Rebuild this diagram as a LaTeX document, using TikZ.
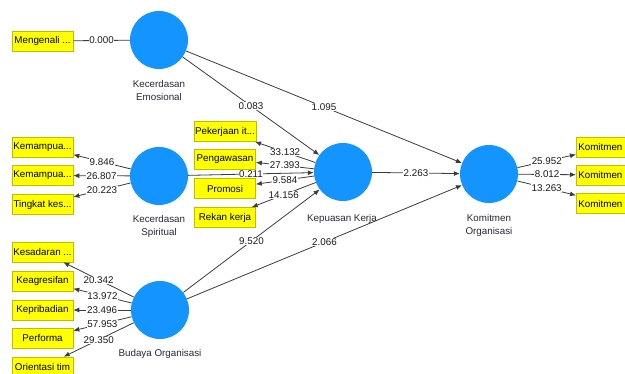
\documentclass[tikz,border=0pt]{standalone}
\usepackage{fontspec}
\setmainfont{Liberation Sans}
\usetikzlibrary{arrows.meta}
\definecolor{lvblue}{RGB}{20,148,255}
\definecolor{boxyellow}{RGB}{255,255,0}
\definecolor{boxedge}{RGB}{190,190,0}
\definecolor{linegray}{RGB}{60,60,60}
\definecolor{lvtext}{RGB}{40,40,60}
\begin{document}
\begin{tikzpicture}[x=1pt,y=-1pt,
  every node/.style={font=\fontsize{9.8}{11}\selectfont},
  lv/.style={circle, fill=lvblue, minimum size=58pt, inner sep=0pt},
  lvlabel/.style={align=center, text=lvtext, font=\fontsize{9.8}{13}\selectfont},
  ind/.style={rectangle, fill=boxyellow, draw=boxedge, line width=0.6pt, minimum width=61pt, minimum height=20pt, inner sep=1pt},
  indr/.style={ind, anchor=west, text width=62pt, align=left, inner xsep=2pt},
  conn/.style={draw=linegray, line width=0.8pt},
  arr/.style={conn, -{Latex[length=6pt,width=5pt]}},
  coef/.style={fill=white, inner sep=0.6pt, text=black!90, midway}
]
\clip (0,0) rectangle (625,374);
\fill[white] (0,0) rectangle (625,374);

% latent variables
\node[lv] (ke) at (159,40) {};
\node[lv] (ks) at (159,176) {};
\node[lv] (bo) at (160,310) {};
\node[lv] (kk) at (343,172) {};
\node[lv] (ko) at (489,174) {};

\node[lvlabel] (kel) at (159,90.5) {Kecerdasan\\Emosional};
\node[lvlabel] (ksl) at (159,226) {Kecerdasan\\Spiritual};
\node[lvlabel] (bol) at (160,354) {Budaya Organisasi};
\node[lvlabel] (kkl) at (342,218.5) {Kepuasan Kerja};
\node[lvlabel] (kol) at (489,225) {Komitmen\\Organisasi};

% indicators left
\node[ind] (m1) at (42.5,41) {Mengenali ...};
\node[ind] (s1) at (42.5,147) {Kemampua...};
\node[ind] (s2) at (42.5,175.5) {Kemampua...};
\node[ind] (s3) at (42.5,204.5) {Tingkat kes...};
\node[ind] (b1) at (42.5,252) {Kesadaran ...};
\node[ind] (b2) at (42.5,281) {Keagresifan};
\node[ind] (b3) at (42.5,310) {Kepribadian};
\node[ind] (b4) at (42.5,338) {Performa};
\node[ind] (b5) at (42.5,367) {Orientasi tim};

% indicators of Kepuasan Kerja
\node[ind] (k1) at (225,131.5) {Pekerjaan it...};
\node[ind] (k2) at (225,159) {Pengawasan};
\node[ind] (k3) at (225,188.5) {Promosi};
\node[ind] (k4) at (225,217.5) {Rekan kerja};

% indicators of Komitmen Organisasi
\node[indr] (o1) at (576,147) {Komitmen};
\node[indr] (o2) at (576,175) {Komitmen};
\node[indr] (o3) at (576,203.5) {Komitmen};

% outer model
\draw[conn] (m1) -- node[coef] {0.000} (ke);
\draw[arr] (ks) -- node[coef] {9.846} (s1);
\draw[arr] (ks) -- node[coef] {26.807} (s2);
\draw[arr] (ks) -- node[coef] {20.223} (s3);
\draw[arr] (bo) -- node[coef] {20.342} (b1);
\draw[arr] (bo) -- node[coef] {13.972} (b2);
\draw[arr] (bo) -- node[coef] {23.496} (b3);
\draw[arr] (bo) -- node[coef] {57.953} (b4);
\draw[arr] (bo) -- node[coef] {29.350} (b5);

% inner model
\draw[arr] (ke) -- node[coef] {0.083} (kk);
\draw[arr] (ke) -- node[coef] {1.095} (ko);
\draw[arr] (ks) -- node[coef] {0.211} (kk);
\draw[arr] (bo) -- node[coef] {9.520} (kk);
\draw[arr] (bo) -- node[coef] {2.066} (ko);
\draw[arr] (kk) -- node[coef] {2.263} (ko);

\draw[arr] (kk) -- node[coef] {33.132} (k1);
\draw[arr] (kk) -- node[coef] {27.393} (k2);
\draw[arr] (kk) -- node[coef] {9.584} (k3);
\draw[arr] (kk) -- node[coef] {14.156} (k4);

\draw[arr] (ko) -- node[coef] {25.952} (o1);
\draw[arr] (ko) -- node[coef] {8.012} (o2);
\draw[arr] (ko) -- node[coef] {13.263} (o3);
\end{tikzpicture}
\end{document}
